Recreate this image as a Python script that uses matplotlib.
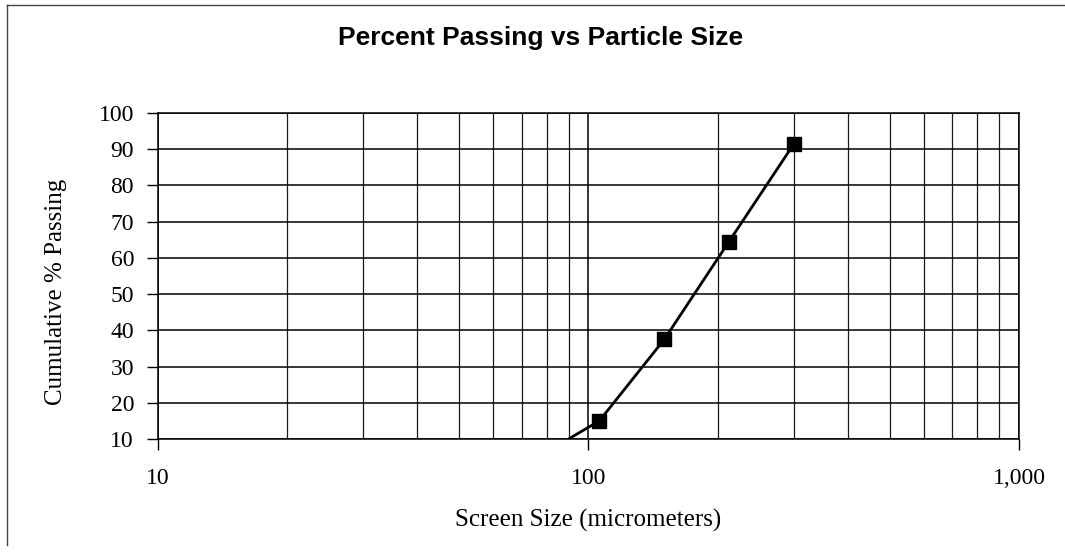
import matplotlib
matplotlib.use("Agg")
import matplotlib.pyplot as plt
from matplotlib.ticker import FixedLocator, FuncFormatter, LogLocator, NullFormatter
from matplotlib.lines import Line2D

# sieve data (micrometers vs cumulative % passing)
screen_size = [75, 106, 150, 212, 300]
pct_passing = [4.5, 15, 37.5, 64.5, 91.5]

y_ticks = [10, 20, 30, 40, 50, 60, 70, 80, 90, 100]
x_ticks = [10, 100, 1000]

fig = plt.figure(figsize=(10.65, 5.56), dpi=100)
ax = fig.add_axes([0.148, 0.2104, 0.809, 0.5864])

ax.plot(screen_size, pct_passing, color="black", lw=2, marker="s",
        markersize=10, markerfacecolor="black", markeredgecolor="black",
        zorder=5)

ax.set_xscale("log")
ax.set_xlim(10, 1000)
ax.set_ylim(10, 100)

ax.xaxis.set_major_locator(FixedLocator(x_ticks))
ax.xaxis.set_major_formatter(FuncFormatter(lambda v, p: f"{v:,.0f}"))
ax.xaxis.set_minor_locator(LogLocator(base=10, subs=range(2, 10)))
ax.xaxis.set_minor_formatter(NullFormatter())
ax.yaxis.set_major_locator(FixedLocator(y_ticks))

ax.grid(which="major", axis="both", color="black", lw=1.1)
ax.grid(which="minor", axis="x", color="#1a1a1a", lw=0.9)
ax.tick_params(axis="x", which="minor", length=0)
ax.tick_params(axis="both", which="major", direction="out", length=8,
               width=1, color="black", labelsize=17)
ax.tick_params(axis="y", pad=9)
ax.tick_params(axis="x", pad=13)
for lab in ax.get_xticklabels() + ax.get_yticklabels():
    lab.set_fontfamily("Liberation Serif")

for s in ax.spines.values():
    s.set_color("black")
    s.set_linewidth(1.1)

ax.set_xlabel("Screen Size (micrometers)", fontfamily="Liberation Serif",
              fontsize=18, labelpad=14)
ax.set_ylabel("Cumulative % Passing", fontfamily="Liberation Serif",
              fontsize=18, labelpad=10)
ax.yaxis.set_label_coords(-0.105, 0.45)

fig.text(0.508, 0.932, "Percent Passing vs Particle Size",
         fontfamily="Liberation Sans", fontweight="bold", fontsize=19,
         ha="center", va="center")

# outer chart border (top and left visible in the scan)
fig.add_artist(Line2D([7 / 1065, 1.0], [1 - 5 / 556, 1 - 5 / 556],
                      transform=fig.transFigure, color="#444444", lw=1))
fig.add_artist(Line2D([7 / 1065, 7 / 1065], [1 - 5 / 556, 1 - 545 / 556],
                      transform=fig.transFigure, color="#444444", lw=1))

fig.savefig("out.png", dpi=100)
